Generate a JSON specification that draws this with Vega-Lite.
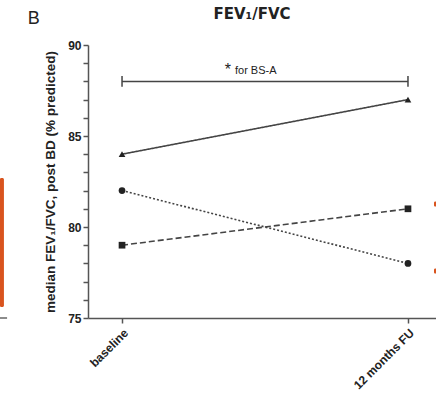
{
  "$schema": "https://vega.github.io/schema/vega-lite/v6.json",
  "autosize": "none",
  "width": 348,
  "height": 273,
  "padding": {"left": 88, "top": 45, "right": 0, "bottom": 81},
  "background": "white",
  "config": {"view": {"stroke": null}, "font": "Liberation Sans"},
  "title": {"text": "FEV₁/FVC", "font": "DejaVu Sans", "fontSize": 15, "fontWeight": "bold", "color": "#222", "dx": -10, "offset": -12},
  "datasets": {
    "series": [
      {"group": "BS-A", "time": 0, "value": 84},
      {"group": "BS-A", "time": 1, "value": 87},
      {"group": "BS-B", "time": 0, "value": 82},
      {"group": "BS-B", "time": 1, "value": 78},
      {"group": "BS-C", "time": 0, "value": 79},
      {"group": "BS-C", "time": 1, "value": 81}
    ]
  },
  "layer": [
    {
      "data": {"name": "series"},
      "mark": {"type": "line", "strokeWidth": 1.6, "color": "#444"},
      "encoding": {
        "x": {"field": "time", "type": "quantitative", "scale": {"domain": [-0.119, 1.098], "nice": false, "zero": false},
          "axis": {"values": [0, 1], "tickCount": 10, "title": null, "labelExpr": "datum.value == 0 ? 'baseline' : '12 months FU'", "labelAngle": -45, "labelAlign": "right", "labelBaseline": "top", "labelFontSize": 12, "labelFontWeight": "bold", "labelColor": "#222", "labelPadding": 4, "labelOverlap": false, "labelFlush": false, "domainColor": "#555", "domainWidth": 1.5, "tickColor": "#555", "tickWidth": 1.5, "tickSize": 5, "grid": false}},
        "y": {"field": "value", "type": "quantitative", "scale": {"domain": [75, 90], "nice": false, "zero": false},
          "axis": {"values": [75,76,77,78,79,80,81,82,83,84,85,86,87,88,89,90], "tickCount": 100, "format": "d", "labelExpr": "datum.value % 5 == 0 ? datum.label : ''", "labelOverlap": false, "labelFlush": false, "title": "median FEV₁/FVC, post BD (% predicted)", "titleFont": "Liberation Sans", "titleFontSize": 13.5, "titleFontWeight": "bold", "titleColor": "#222", "titlePadding": 10, "labelFontSize": 12, "labelFontWeight": "bold", "labelColor": "#222", "labelPadding": 2, "domainColor": "#555", "domainWidth": 1.5, "tickColor": "#555", "tickWidth": 1.5, "tickSize": 5, "grid": false}},
        "detail": {"field": "group"},
        "strokeDash": {"field": "group", "type": "nominal", "scale": {"domain": ["BS-A", "BS-B", "BS-C"], "range": [[1, 0], [2, 2], [6, 3]]}, "legend": null}
      }
    },
    {
      "data": {"name": "series"},
      "mark": {"type": "point", "filled": true, "opacity": 1, "color": "#222", "size": 45},
      "encoding": {
        "x": {"field": "time", "type": "quantitative"},
        "y": {"field": "value", "type": "quantitative"},
        "shape": {"field": "group", "type": "nominal", "scale": {"domain": ["BS-A", "BS-B", "BS-C"], "range": ["triangle-up", "circle", "square"]}, "legend": null}
      }
    },
    {
      "data": {"values": [{"x1": 0, "x2": 1, "y": 88}]},
      "mark": {"type": "rule", "color": "#444", "strokeWidth": 1.5},
      "encoding": {"x": {"field": "x1", "type": "quantitative"}, "x2": {"field": "x2"}, "y": {"field": "y", "type": "quantitative"}}
    },
    {
      "data": {"values": [{"x": 0, "lo": 87.7, "hi": 88.3}, {"x": 1, "lo": 87.7, "hi": 88.3}]},
      "mark": {"type": "rule", "color": "#444", "strokeWidth": 1.5},
      "encoding": {"x": {"field": "x", "type": "quantitative"}, "y": {"field": "lo", "type": "quantitative"}, "y2": {"field": "hi"}}
    },
    {
      "data": {"values": [{"x": 0.37, "y": 88.62, "label": "*"}]},
      "mark": {"type": "text", "fontSize": 16, "color": "#222", "align": "center", "baseline": "middle"},
      "encoding": {"x": {"field": "x", "type": "quantitative"}, "y": {"field": "y", "type": "quantitative"}, "text": {"field": "label"}}
    },
    {
      "data": {"values": [{"x": 0.395, "y": 88.55, "label": "for BS-A"}]},
      "mark": {"type": "text", "fontSize": 11, "color": "#222", "align": "left", "baseline": "middle"},
      "encoding": {"x": {"field": "x", "type": "quantitative"}, "y": {"field": "y", "type": "quantitative"}, "text": {"field": "label"}}
    },
    {
      "data": {"values": [{"x": -0.33, "y": 91.45, "label": "B"}]},
      "mark": {"type": "text", "fontSize": 18, "color": "#222", "align": "left", "baseline": "middle"},
      "encoding": {"x": {"field": "x", "type": "quantitative"}, "y": {"field": "y", "type": "quantitative"}, "text": {"field": "label"}}
    },
    {
      "data": {"values": [
        {"x1": -0.427, "x2": -0.413, "y1": 82.69, "y2": 75.6},
        {"x1": 1.091, "x2": 1.1, "y1": 81.12, "y2": 81.4},
        {"x1": 1.091, "x2": 1.1, "y1": 77.44, "y2": 77.72}
      ]},
      "mark": {"type": "rect", "color": "#d9541e", "cornerRadius": 1.5},
      "encoding": {"x": {"field": "x1", "type": "quantitative"}, "x2": {"field": "x2"}, "y": {"field": "y1", "type": "quantitative"}, "y2": {"field": "y2"}}
    },
    {
      "data": {"values": [{"x1": -0.427, "x2": -0.402, "y": 75}]},
      "mark": {"type": "rule", "color": "#666", "strokeWidth": 1.5},
      "encoding": {"x": {"field": "x1", "type": "quantitative"}, "x2": {"field": "x2"}, "y": {"field": "y", "type": "quantitative"}}
    }
  ]
}
